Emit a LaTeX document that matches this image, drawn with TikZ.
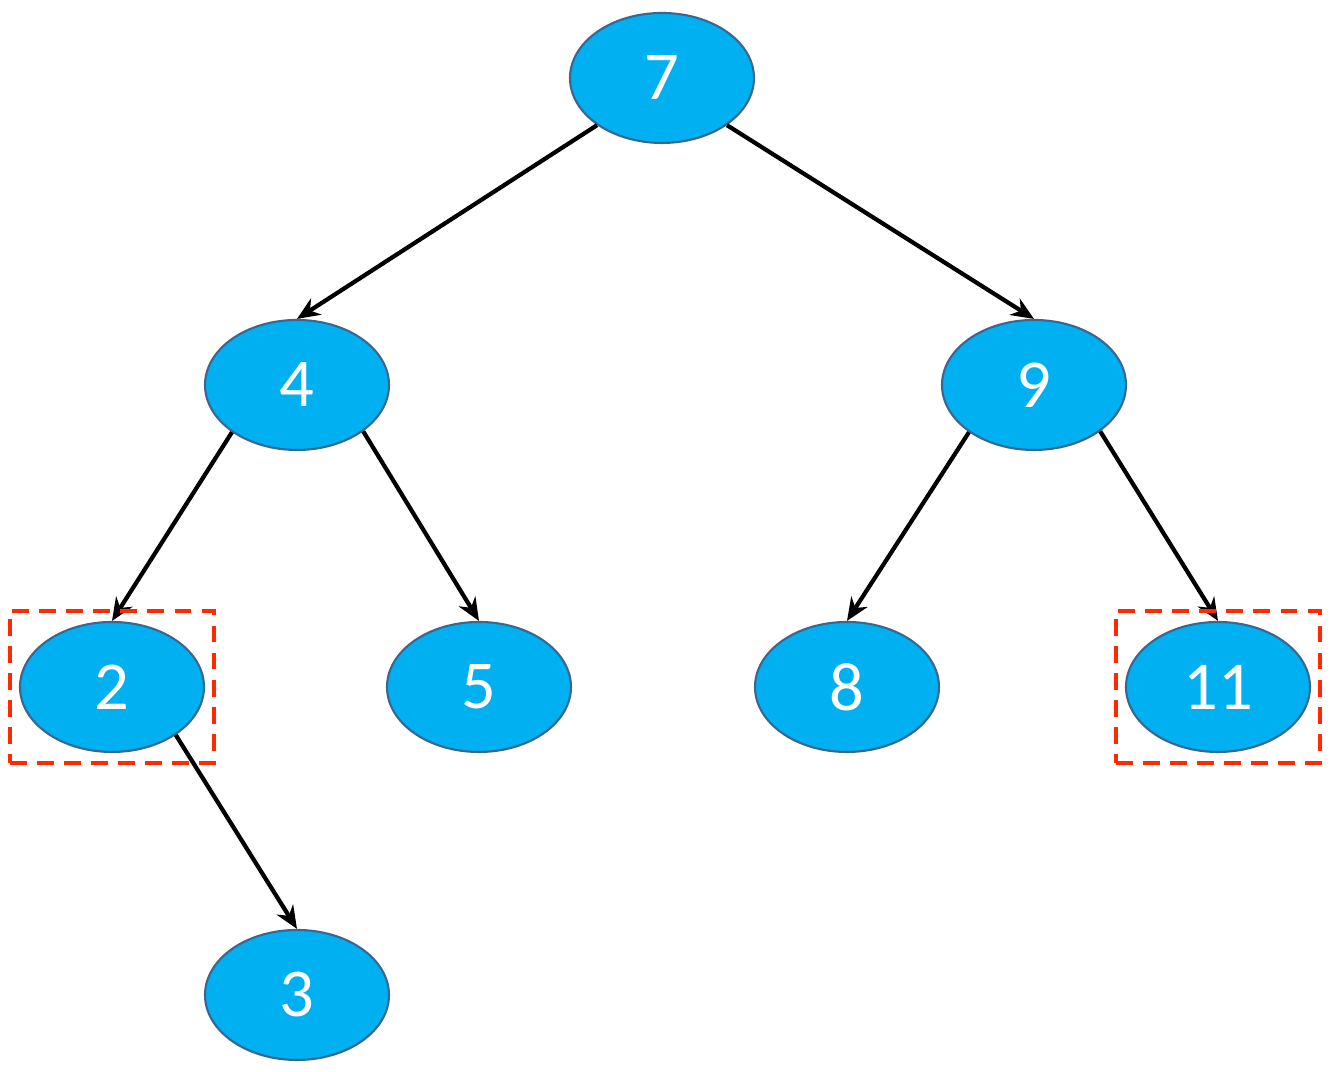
\documentclass[tikz,border=0pt]{standalone}
\usepackage{fontspec}
\setmainfont{Carlito}
\usepackage{tikz}
\usetikzlibrary{positioning, shapes.geometric, arrows.meta, fit}

\definecolor{nodefill}{HTML}{00B0F0}
\definecolor{nodeline}{HTML}{3A6690}
\definecolor{markred}{HTML}{FF2A00}

\begin{document}
\begin{tikzpicture}[
    key/.style = { draw = nodeline, line width = .6pt, fill = nodefill, shape = ellipse,
                   minimum width = 1.84cm, minimum height = 1.30cm, inner sep = 0pt,
                   text = white, font = \fontsize{19.5}{22}\selectfont },
    edge/.style = { line width = 1.2pt, -{Stealth[length = 6.5pt, width = 5.5pt]} },
    markbox/.style = { draw = markred, line width = 1.1pt, dash pattern = on 4.8pt off 2.9pt,
                       inner xsep = .09cm, inner ysep = .1cm }
  ]
    \useasboundingbox (0,0) rectangle (13.3,10.72);

    \node [key] (n7)  at (6.62, 9.94) { 7 };
    \node [key] (n4)  at (2.97, 6.87) { 4 };
    \node [key] (n9)  at (10.34, 6.87) { 9 };
    \node [key] (n2)  at (1.12, 3.85) { 2 };
    \node [key] (n5)  at (4.79, 3.85) { 5 };
    \node [key] (n8)  at (8.47, 3.85) { 8 };
    \node [key] (n11) at (12.18, 3.85) { 11 };
    \node [key] (n3)  at (2.97, 0.77) { 3 };

    \draw [edge] (n7.-144) -- (n4.north);
    \draw [edge] (n7.-36)  -- (n9.north);
    \draw [edge] (n4.-144) -- (n2.north);
    \draw [edge] (n4.-35)  -- (n5.north);
    \draw [edge] (n9.-144) -- (n8.north);
    \draw [edge] (n9.-35)  -- (n11.north);
    \draw [edge] (n2.-37)  -- (n3.north);

    \node [markbox, fit = (n2)]  (box2)  {};
    \node [markbox, fit = (n11)] (box11) {};
\end{tikzpicture}
\end{document}
